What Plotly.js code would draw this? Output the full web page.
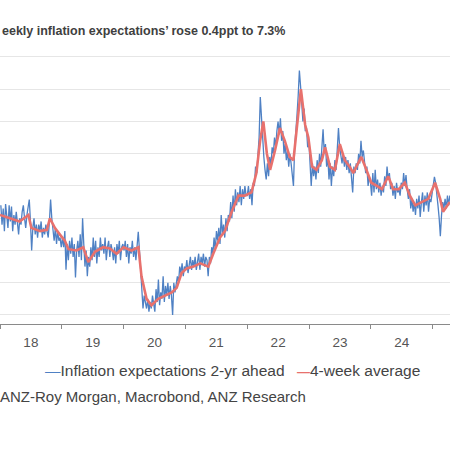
<!DOCTYPE html>
<html>
<head>
<meta charset="utf-8">
<script src="https://cdn.plot.ly/plotly-3.0.1.min.js"></script>
<style>html,body{margin:0;padding:0;background:#fff;}#chart{width:450px;height:450px;}</style>
</head>
<body>
<div id="chart"></div>
<script>
// Weekly series: ANZ-Roy Morgan inflation expectations 2-yr ahead (%)
const weeklyStart = '2018-01-06';
const blue2018 = [4.7,4.4,4.65,4.3,4.72,4.5,4.35,4.7,4.45,4.68,4.3,4.55,4.4,4.6,4.45,4.25,4.5,
  4.4,4.6,4.7,4.5,4.35,4.55,4.65,4.79,4.45,
  4.0,4.35,4.5,4.25,4.4,4.2,4.4,4.3,
  4.45,4.2,4.35,4.25,4.4,4.3,4.2,4.45,
  4.79,4.5,4.3,
  4.15,4.35,4.1,4.3,4.15,4.2,4.05];
const blue2019 = [4.2,4.05,4.3,3.7,4.1,3.85,4.15,
  3.95,4.2,3.9,4.1,3.58,4.0,4.15,
  3.9,4.25,3.85,4.5,4.1,
  3.75,4.0,3.6,3.9,3.75,4.05,
  3.85,4.2,3.9,4.15,3.8,4.05,3.9,4.2,4.0,
  4.1,3.95,4.2,3.85,4.05,4.15,3.9,4.1,4.0,3.85,
  4.05,3.8,4.1,3.95,4.15,3.85,4.05,4.1];
const blue2020 = [4.0,4.15,3.9,4.1,3.8,4.05,3.95,
  4.15,3.9,4.05,3.85,4.1,4.29,4.0,
  3.7,3.4,3.1,3.3,3.2,
  3.1,3.25,3.05,3.2,3.1,3.3,3.15,3.05,
  3.4,3.2,3.55,3.15,3.35,3.25,3.6,3.2,3.45,3.3,
  3.5,3.25,3.45,3.3,3.0,3.5,3.35,
  3.45,3.6,3.5,3.75,3.65,3.8,3.6,3.75];
const blue2021 = [3.7,3.85,3.65,3.8,3.9,3.7,3.85,3.75,3.9,3.7,
  3.85,3.95,3.7,3.9,3.8,3.95,3.75,3.9,3.85,3.6,
  3.9,3.8,4.05,3.95,4.2,4.0,4.3,4.15,
  4.35,4.1,4.55,4.25,4.4,4.2,4.5,4.3,
  4.55,4.45,4.75,4.5,4.85,4.6,4.95,4.7,
  4.9,4.75,5.0,4.7,4.95,4.8,5.0,4.85];
const blue2022 = [4.85,5.0,4.8,4.95,4.7,5.05,
  5.0,5.3,5.2,5.5,
  5.75,6.38,6.0,5.7,
  5.45,5.25,5.1,5.35,5.15,
  5.45,5.3,5.6,5.5,5.75,5.6,5.85,
  6.0,5.8,6.05,5.7,5.85,5.5,
  5.65,5.4,5.55,5.3,5.5,5.35,5.2,
  5.0,5.6,5.8,
  6.1,6.4,6.79,6.55,6.3,
  6.0,6.2,5.85,5.9,5.6];
const blue2023 = [5.7,5.4,5.0,5.35,5.15,5.3,
  5.1,5.4,5.2,5.5,5.3,5.6,5.88,
  5.5,5.65,5.3,5.45,5.1,
  5.35,5.0,5.3,5.15,5.4,5.25,
  5.55,5.9,5.6,5.5,5.35,5.5,
  5.3,5.45,5.25,5.4,5.2,5.35,5.15,
  4.9,5.3,5.2,5.35,
  5.25,5.5,5.35,5.7,5.45,5.55,
  5.35,5.2,5.3,5.0,5.15];
const blue2024 = [5.05,4.85,5.2,4.9,5.25,4.95,5.1,
  4.9,5.05,4.85,5.0,4.9,5.15,5.0,
  5.3,5.1,5.2,4.95,5.05,
  4.85,5.0,4.8,5.05,4.9,4.95,4.85,
  5.05,4.95,5.2,5.0,5.17,4.95,
  4.8,4.95,4.65,4.8,4.6,4.75,4.55,
  4.8,4.65,4.85,4.52,4.75,4.9,4.6,
  4.85,4.7,4.9,4.6,4.8,4.75];
const blue2025 = [4.9,5.0,5.14,5.05,4.9,4.7,
  4.5,4.22,4.55,4.75,4.65,
  4.8,4.65,4.85,4.7,4.85,4.8];

// 4-week average
const avgDates = ['2018-01-01','2018-02-28','2018-04-27','2018-06-18','2018-07-05','2018-08-26','2018-10-05','2018-10-23','2018-11-21','2018-12-20',
  '2019-01-19','2019-02-10','2019-03-29','2019-05-08','2019-06-07','2019-07-16','2019-09-02','2019-10-12','2019-11-21',
  '2020-01-01','2020-02-17','2020-03-29','2020-04-16','2020-05-16','2020-06-14','2020-07-24','2020-09-02','2020-10-12','2020-11-10','2020-12-09',
  '2021-01-08','2021-02-17','2021-03-29','2021-05-16','2021-06-14','2021-07-24','2021-08-22','2021-10-01','2021-11-10','2021-12-17',
  '2022-01-26','2022-02-24','2022-03-18','2022-04-06','2022-04-27','2022-05-16','2022-06-14','2022-07-13','2022-08-11','2022-09-09','2022-10-01','2022-10-19','2022-11-14','2022-12-09','2022-12-28',
  '2023-01-19','2023-02-14','2023-03-18','2023-04-06','2023-05-05','2023-06-03','2023-07-02','2023-07-31','2023-08-29','2023-09-20','2023-10-08','2023-11-06','2023-12-06',
  '2024-01-04','2024-02-06','2024-03-07','2024-04-13','2024-05-12','2024-06-14','2024-07-20','2024-08-19','2024-09-20','2024-10-27','2024-12-06',
  '2025-01-15','2025-02-14','2025-03-03','2025-04-12'];
const avgValues = [4.55,4.5,4.45,4.55,4.35,4.3,4.32,4.5,4.35,4.25,
  4.15,4.02,4.0,4.05,3.82,3.98,4.05,4.03,3.95,
  4.05,4.0,4.05,3.6,3.25,3.15,3.25,3.3,3.35,3.42,3.65,
  3.72,3.75,3.8,3.75,3.95,4.2,4.3,4.6,4.85,4.85,
  4.9,5.2,5.7,6.0,5.5,5.25,5.55,5.9,5.7,5.45,5.4,5.9,6.5,5.95,5.75,
  5.3,5.25,5.4,5.6,5.3,5.25,5.65,5.4,5.3,5.2,5.3,5.45,5.25,
  5.05,5.0,4.95,5.15,4.95,4.95,5.05,4.85,4.7,4.75,4.8,
  5.05,4.8,4.6,4.75];

const seriesNames = ['Inflation expectations 2-yr ahead', '4-week average'];
const seriesColors = ['#4f81c4', '#e8716d'];
const yearTickFormat = '%y';
const titleText = "eekly inflation expectations\u2019 rose 0.4ppt to 7.3%";
const sourceText = 'ANZ-Roy Morgan, Macrobond, ANZ Research';

const blueValues = [].concat(blue2018, blue2019, blue2020, blue2021, blue2022, blue2023, blue2024, blue2025);
const blueDates = blueValues.map((v, i) => {
  const d = new Date(weeklyStart + 'T00:00:00Z');
  d.setUTCDate(d.getUTCDate() + 7 * i);
  return d.toISOString().slice(0, 10);
});

const FONT = 'Liberation Sans, Arial, sans-serif';

const traces = [
  {x: blueDates, y: blueValues, type: 'scatter', mode: 'lines', name: seriesNames[0],
   showlegend: false, line: {color: seriesColors[0], width: 1.3}},
  {x: avgDates, y: avgValues, type: 'scatter', mode: 'lines', name: seriesNames[1],
   showlegend: false, line: {color: seriesColors[1], width: 2.6}}
];

const layout = {
  width: 450, height: 450,
  margin: {l: 0, r: 0, t: 50, b: 126, pad: 0},
  paper_bgcolor: '#ffffff', plot_bgcolor: '#ffffff',
  font: {family: FONT, color: '#4a4a4a'},
  showlegend: false,
  xaxis: {type: 'date', range: ['2018-01-01', '2025-04-13'],
          dtick: 'M12', tick0: '2018-01-01', tickformat: yearTickFormat, ticklabelmode: 'period',
          ticks: 'outside', ticklen: 4, tickcolor: '#8a8a8a', tickwidth: 1,
          ticklabelstandoff: 2,
          showline: true, linecolor: '#8a8a8a', linewidth: 1,
          showgrid: false, zeroline: false,
          tickfont: {size: 13.5, color: '#555555', family: FONT}},
  yaxis: {range: [2.86, 7.108], tick0: 3, dtick: 0.5, showticklabels: false, ticks: '',
          showgrid: true, gridcolor: '#e6e6e6', gridwidth: 1, zeroline: false, showline: false},
  annotations: [
    {xref: 'paper', yref: 'paper', x: 0, y: 1.069, xanchor: 'left', yanchor: 'middle',
     text: '<b>' + titleText + '</b>', showarrow: false,
     font: {size: 12.5, color: '#404040', family: FONT}},
    // legend entries
    {xref: 'paper', yref: 'paper', x: 43 / 450, y: -0.168, xanchor: 'left', yanchor: 'middle',
     text: '<span style="color:' + seriesColors[0] + '">\u2014</span>' + seriesNames[0], showarrow: false,
     font: {size: 15.5, color: '#444444', family: FONT}},
    {xref: 'paper', yref: 'paper', x: 295 / 450, y: -0.168, xanchor: 'left', yanchor: 'middle',
     text: '<b><span style="color:' + seriesColors[1] + ';font-size:13px">\u2014</span></b>' + seriesNames[1], showarrow: false,
     font: {size: 15.5, color: '#444444', family: FONT}},
    {xref: 'paper', yref: 'paper', x: -0.004, y: -0.263, xanchor: 'left', yanchor: 'middle',
     text: sourceText, showarrow: false,
     font: {size: 15, color: '#444444', family: FONT}}
  ]
};

Plotly.newPlot('chart', traces, layout, {staticPlot: true, displayModeBar: false});
</script>
</body>
</html>
